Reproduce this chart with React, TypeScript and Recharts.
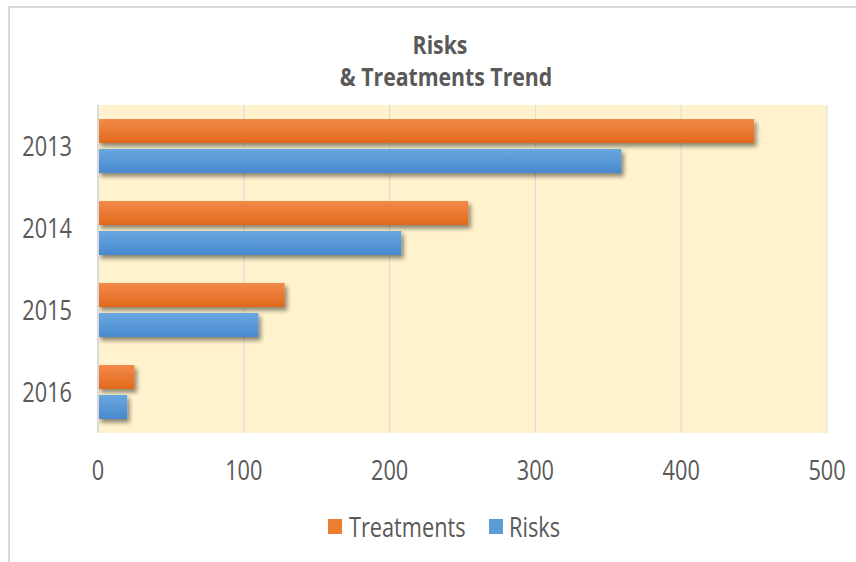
import React from 'react';
import { BarChart, Bar, XAxis, YAxis, CartesianGrid, Legend } from 'recharts';

const years = ['2013', '2014', '2015', '2016'];
const treatments = [450, 254, 128, 25];
const risks = [359, 208, 110, 20];
const xTicks = [0, 100, 200, 300, 400, 500];
const titleLines = ['Risks', '& Treatments Trend'];
const seriesNames = ['Treatments', 'Risks'];

const data = years.map((y, i) => ({ year: y, Treatments: treatments[i], Risks: risks[i] }));

const FONT = "'Open Sans', 'Liberation Sans', sans-serif";
const TEXT = '#595959';
const SX = 0.82;

const gradOf: Record<string, string> = { Treatments: 'url(#gOrange)', Risks: 'url(#gBlue)' };
const solidOf: Record<string, string> = { Treatments: '#ED7D31', Risks: '#5B9BD5' };

const BarShape = (props: any) => {
  const { x, y, width, height, dataKey } = props;
  if (!width || width <= 0) return null;
  return (
    <rect x={x} y={y} width={width} height={height} fill={gradOf[dataKey]} filter="url(#barShadow)" />
  );
};

const NarrowText = ({ x, y, anchor, size, weight, sx, children }: any) => (
  <text
    transform={`translate(${x},${y}) scale(${sx},1)`}
    x={0}
    y={0}
    textAnchor={anchor}
    fill={TEXT}
    fontSize={size}
    fontWeight={weight || 'normal'}
    fontFamily={FONT}
  >
    {children}
  </text>
);

const YTick = (props: any) => {
  const { x, y, payload } = props;
  return (
    <NarrowText x={x} y={y + 10} anchor="end" size={26.5} sx={SX}>
      {payload.value}
    </NarrowText>
  );
};

const XTick = (props: any) => {
  const { x, y, payload } = props;
  return (
    <NarrowText x={x} y={y} anchor="middle" size={26.5} sx={SX}>
      {payload.value}
    </NarrowText>
  );
};

const legendPos = [
  { sq: 328, tx: 349 },
  { sq: 489, tx: 509 },
];

const LegendContent = () => (
  <svg width={856} height={59} style={{ display: 'block', overflow: 'visible' }}>
    {seriesNames.map((n, i) => (
      <g key={n}>
        <rect x={legendPos[i].sq} y={16} width={14} height={15} fill={solidOf[n]} />
        <NarrowText x={legendPos[i].tx} y={34} anchor="start" size={26.5} sx={SX}>
          {n}
        </NarrowText>
      </g>
    ))}
  </svg>
);

export default function App() {
  return (
    <div style={{ position: 'absolute', left: 0, top: 0, width: 856, height: 562, background: '#fff' }}>
      <svg width={0} height={0} style={{ position: 'absolute' }}>
        <defs>
          <linearGradient id="gOrange" x1="0" y1="0" x2="0" y2="1">
            <stop offset="0%" stopColor="#F28A4A" />
            <stop offset="100%" stopColor="#E2691B" />
          </linearGradient>
          <linearGradient id="gBlue" x1="0" y1="0" x2="0" y2="1">
            <stop offset="0%" stopColor="#6AA7E0" />
            <stop offset="100%" stopColor="#4889CF" />
          </linearGradient>
          <filter id="barShadow" x="-20%" y="-30%" width="140%" height="170%">
            <feDropShadow dx="2.5" dy="3.5" stdDeviation="2" floodColor="#000" floodOpacity="0.45" />
          </filter>
        </defs>
      </svg>
      <div
        style={{
          position: 'absolute',
          left: 8,
          top: 6,
          width: 848,
          height: 556,
          borderTop: '2px solid #D9D9D9',
          borderLeft: '2px solid #D9D9D9',
          boxSizing: 'border-box',
        }}
      />
      <div style={{ position: 'absolute', left: 0, top: 0 }}>
        <BarChart
          width={856}
          height={562}
          data={data}
          layout="vertical"
          margin={{ top: 105, right: 29, left: 0, bottom: 0 }}
          barCategoryGap={14}
          barGap={6}
        >
          <NarrowText x={440} y={54} anchor="middle" size={25} weight="bold" sx={0.85}>
            {titleLines[0]}
          </NarrowText>
          <NarrowText x={446} y={86} anchor="middle" size={25} weight="bold" sx={0.85}>
            {titleLines[1]}
          </NarrowText>
          <CartesianGrid horizontal={false} stroke="#D9D9D9" fill="#FFF2CC" strokeWidth={1} />
          <XAxis
            type="number"
            domain={[0, 500]}
            ticks={xTicks}
            axisLine={false}
            tickLine={false}
            tickSize={0}
            tickMargin={47}
            height={70}
            tick={<XTick />}
            interval={0}
          />
          <YAxis
            type="category"
            dataKey="year"
            width={98}
            axisLine={{ stroke: '#D9D9D9', strokeWidth: 2 }}
            tickLine={false}
            tickSize={0}
            tickMargin={26}
            tick={<YTick />}
            interval={0}
          />
          <Legend verticalAlign="bottom" height={59} wrapperStyle={{ height: 59 }} content={<LegendContent />} />
          <Bar dataKey="Treatments" isAnimationActive={false} shape={<BarShape dataKey="Treatments" />} fill="#ED7D31" />
          <Bar dataKey="Risks" isAnimationActive={false} shape={<BarShape dataKey="Risks" />} fill="#5B9BD5" />
        </BarChart>
      </div>
    </div>
  );
}
